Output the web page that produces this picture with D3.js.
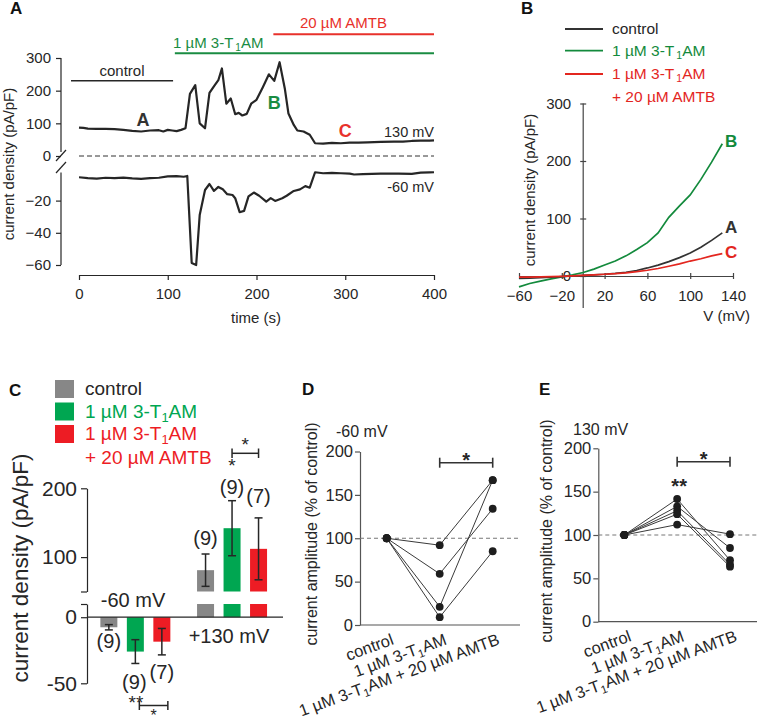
<!DOCTYPE html>
<html><head><meta charset="utf-8">
<script src="https://cdn.jsdelivr.net/npm/d3@7"></script>
<style>
body{margin:0;background:#fff}
svg{display:block;font-family:"Liberation Sans",Arial,Helvetica,sans-serif}
</style></head><body>
<svg id="fig" width="759" height="725"></svg>
<script>
// ================= DATA =================
// Panel A : current density over time
const timeA130 = [0,5,10,20,30,40,50,60,70,80,90,95,100,105,110,115,120,125,131,136,142,147,152,157,161,166,171,176,180,184,189,194,200,207,214,220,226,232,236,242,246,253,260,266,275,285,295,305,315,325,340,355,365,375,385,395,400];
const curA130  = [87,86,84,83,83,82,80,77,75,78,79,75,80,78,76,80,85,190,217,100,85,193,213,232,268,160,176,128,132,124,129,160,172,210,250,230,287,205,130,95,78,75,65,39,38,40,39,41,41,42,43,44,44,46,47,47,48];
const timeAm60 = [0,10,20,30,40,50,60,70,80,90,100,110,118,122,127,132,136,142,147,152,157,162,167,173,176,181,186,191,197,203,211,216,221,229,234,242,249,255,260,266,275,285,295,305,310,320,340,360,375,385,395,400];
const curAm60  = [-5.5,-6,-6.3,-5.8,-6,-5.7,-6.2,-6.5,-6,-5.8,-5,-4.8,-5.2,-4.7,-58.8,-60,-29,-13.4,-9.7,-14,-11.5,-13,-16,-16.5,-18.5,-27.2,-26.4,-17.4,-15,-17,-20.6,-18.5,-20.2,-18.5,-17,-14,-13,-11,-12,-2.4,-3,-2.8,-3,-3.2,-3.8,-3.5,-3.3,-3.2,-3.4,-2.6,-2.5,-2.4];
const ticksAx = [0,100,200,300,400];
const ticksAup = [0,100,200,300];
const ticksAlo = [-20,-40,-60];
const periodControl = [-9,106];
const periodT1AM = [108,400];
const periodAMTB = [219,400];

// Panel B : I-V curves
const voltB = [-60,-50,-40,-30,-20,-10,0,10,20,30,40,50,60,70,80,90,100,110,120,130];
const ivControl = [-4,-3.6,-3,-2.2,-1,0,1,2,3,4.5,6.5,9.5,14,19,25,32,40,50,62,75];
const ivT1AM    = [-19,-13,-9,-5,-1.5,2,6,12,19,26,35,46,58,75,102,122,141,168,198,230];
const ivAMTB    = [-2,-1.8,-1.5,-1,-0.5,0.2,1,2,3,4,5.5,7.5,10,13,17,21,26,30,35,39];
const ticksBx = [-60,-20,20,60,100,140];
const ticksBy = [0,100,200,300];

// Panel C : bar summary
const groupsC = ["-60 mV","+130 mV"];
const condsC  = ["control","1 \u00b5M 3-T1AM","1 \u00b5M 3-T1AM + 20 \u00b5M AMTB"];
const meanCm60 = [-7.6,-26,-18.5];
const semCm60  = [2,9,10];
const meanC130 = [81,142,112];
const semC130  = [23.5,40,45];
const nCm60 = [9,9,7];
const nC130 = [9,9,7];
const ticksCup = [50,100,200];
const ticksClo = [-50,0,10];

// Panels D / E : paired cells (% of control)
const catsDE = ["control","1 \u00b5M 3-T1AM","1 \u00b5M 3-T1AM + 20 \u00b5M AMTB"];
const cellsD = [[100,92,167],[100,59,134],[100,21,167],[100,9,85]];
const cellsE = [[100,141.5,71],[100,133,85],[100,128,66],[100,124,63.5],[100,112,101]];
const ticksDE = [0,50,100,150,200];

// ================= DRAW =================
const svg = d3.select("#fig");
const FONT = '"Liberation Sans", Arial, Helvetica, sans-serif';
const INK = "#262626";
const GREEN_D = "#1a8c42", RED_D = "#e8312b";
const C_GRAY = "#878787", C_GREEN = "#00a651", C_RED = "#ed1c24";

function styleAxis(g, size, col) {
  g.attr("font-family", FONT);
  g.selectAll("text").attr("font-size", size).attr("fill", INK);
  g.selectAll("line").attr("stroke", col || INK).attr("stroke-width", 1.2);
  g.selectAll("path.domain").attr("stroke", col || INK).attr("stroke-width", 1.2);
}
function rich(sel, str, size, gap) {
  const parts = str.split("3-T1AM");
  const s = size * 0.22;
  sel.append("tspan").text(parts[0]);
  for (let i = 1; i < parts.length; i++) {
    sel.append("tspan").text("3-T");
    sel.append("tspan").attr("font-size", size * 0.68).attr("dy", s).attr("dx", gap || 0).text("1");
    sel.append("tspan").attr("dy", -s).text("AM" + parts[i]);
  }
  return sel;
}
function text(g, x, y, str, size, opt = {}) {
  const t = g.append("text").attr("x", x).attr("y", y).attr("font-size", size)
    .attr("font-family", FONT).attr("fill", opt.fill || INK)
    .attr("text-anchor", opt.anchor || "start")
    .attr("font-weight", opt.bold ? "bold" : "normal");
  if (opt.rotate !== undefined) t.attr("transform", `rotate(${opt.rotate},${x},${y})`);
  rich(t, str, size, opt.gap);
  return t;
}
function line(g, x1, y1, x2, y2, col, w, dash) {
  const l = g.append("line").attr("x1", x1).attr("y1", y1).attr("x2", x2).attr("y2", y2)
    .attr("stroke", col || INK).attr("stroke-width", w || 1.2);
  if (dash) l.attr("stroke-dasharray", dash);
  return l;
}

// ---------- Panel A ----------
{
  const g = svg.append("g");
  const xA = d3.scaleLinear().domain([0,400]).range([79,434]);
  const yAup = d3.scaleLinear().domain([0,300]).range([156,58]);
  const yAlo = d3.scaleLinear().domain([-60,0]).range([265,168.4]);

  g.append("g").attr("transform","translate(0,275)")
    .call(d3.axisBottom(xA).tickValues(ticksAx).tickSizeInner(5).tickSizeOuter(0).tickPadding(8))
    .call(styleAxis, 15);
  const up = g.append("g").attr("transform","translate(61,0)")
    .call(d3.axisLeft(yAup).tickValues(ticksAup).tickSizeInner(5).tickSizeOuter(0).tickPadding(5))
    .call(styleAxis, 15);
  up.select(".domain").remove();
  line(g, 61, yAup(300), 61, yAup(0) - 4);
  const lo = g.append("g").attr("transform","translate(61,0)")
    .call(d3.axisLeft(yAlo).tickValues(ticksAlo).tickSizeInner(5).tickSizeOuter(0).tickPadding(5))
    .call(styleAxis, 15);
  lo.select(".domain").remove();
  line(g, 61, yAlo(-2.5), 61, yAlo(-60));
  line(g, 56, 161, 66, 150);
  line(g, 56, 173, 66, 162);

  line(g, xA(0), yAup(0), xA(400), yAup(0), "#333", 1, "5,3");

  const l130 = d3.line().x((d,i) => xA(timeA130[i])).y(d => yAup(d));
  g.append("path").attr("d", l130(curA130)).attr("fill","none").attr("stroke",INK)
    .attr("stroke-width",2.2).attr("stroke-linejoin","round");
  const lm60 = d3.line().x((d,i) => xA(timeAm60[i])).y(d => yAlo(d));
  g.append("path").attr("d", lm60(curAm60)).attr("fill","none").attr("stroke",INK)
    .attr("stroke-width",2.2).attr("stroke-linejoin","round");

  // application bars
  line(g, xA(periodControl[0]), 80.7, xA(periodControl[1]), 80.7, INK, 1.5);
  text(g, (xA(periodControl[0]) + xA(periodControl[1])) / 2, 76, "control", 15, {anchor:"middle"});
  line(g, xA(periodT1AM[0]), 53.3, xA(periodT1AM[1]), 53.3, GREEN_D, 2);
  text(g, 173, 47.5, "1 \u00b5M 3-T1AM", 15, {fill:GREEN_D, gap:2});
  line(g, xA(periodAMTB[0]), 34.3, xA(periodAMTB[1]), 34.3, RED_D, 2);
  text(g, 300, 28, "20 \u00b5M AMTB", 15, {fill:RED_D});

  text(g, xA(72), yAup(92), "A", 18, {anchor:"middle", bold:true, fill:"#333"});
  text(g, xA(220), yAup(145), "B", 18, {anchor:"middle", bold:true, fill:GREEN_D});
  text(g, xA(300), yAup(58), "C", 18, {anchor:"middle", bold:true, fill:RED_D});
  text(g, 434, 137, "130 mV", 14.5, {anchor:"end"});
  text(g, 434, 192, "-60 mV", 14.5, {anchor:"end"});

  text(g, 256, 323, "time (s)", 15, {anchor:"middle"});
  text(g, 14, 164, "current density (pA/pF)", 15, {anchor:"middle", rotate:-90});
  text(g, 10, 14, "A", 17, {bold:true, fill:"#111"});
}

// ---------- Panel B ----------
{
  const g = svg.append("g");
  const xB = d3.scaleLinear().domain([-60,140]).range([519,733]);
  const yB = d3.scaleLinear().domain([0,300]).range([276,103.5]);

  const ax = g.append("g").attr("transform","translate(0,276)")
    .call(d3.axisBottom(xB).tickValues(ticksBx).tickSizeInner(3).tickSizeOuter(0).tickPadding(11))
    .call(styleAxis, 15, "#444");
  ax.selectAll(".tick line").attr("y1", -3).attr("y2", 3);
  const ay = g.append("g").attr("transform",`translate(${xB(0)},0)`)
    .call(d3.axisLeft(yB).tickValues(ticksBy).tickSizeInner(3).tickSizeOuter(0).tickPadding(9))
    .call(styleAxis, 15, "#444");
  ay.select(".domain").remove();
  ay.selectAll(".tick line").attr("x1", -3).attr("x2", 3);
  line(g, xB(0), yB(300), xB(0), 308, "#444", 1.2);

  const lB = d3.line().x((d,i) => xB(voltB[i])).y(d => yB(d));
  [[ivT1AM, "#138a3c"], [ivControl, "#333"], [ivAMTB, "#e3261f"]].forEach(([arr, col]) => {
    g.append("path").attr("d", lB(arr)).attr("fill","none").attr("stroke",col).attr("stroke-width",1.7);
  });
  text(g, 725, 147, "B", 17, {bold:true, fill:"#138a3c"});
  text(g, 725, 233, "A", 17, {bold:true, fill:"#333"});
  text(g, 725, 258, "C", 17, {bold:true, fill:"#e3261f"});

  // legend
  line(g, 565, 29, 603, 29, "#333", 1.8);
  text(g, 612, 34, "control", 15.5);
  line(g, 565, 50.7, 603, 50.7, "#138a3c", 1.8);
  text(g, 612, 55.5, "1 \u00b5M 3-T1AM", 15.5, {fill:"#138a3c", gap:2});
  line(g, 565, 74, 603, 74, "#e3261f", 1.8);
  text(g, 612, 78.5, "1 \u00b5M 3-T1AM", 15.5, {fill:"#e3261f", gap:2});
  text(g, 612, 101.5, "+ 20 \u00b5M AMTB", 15.5, {fill:"#e3261f"});

  text(g, 750, 321, "V (mV)", 15, {anchor:"end"});
  text(g, 535, 190, "current density (pA/pF)", 15, {anchor:"middle", rotate:-90});
  text(g, 521, 14, "B", 17, {bold:true, fill:"#111"});
}

// ---------- Panel C ----------
{
  const g = svg.append("g");
  const xG = d3.scaleBand().domain(groupsC).range([87, 280.4]);
  const xC = d3.scalePoint().domain(condsC).range([-26.5, 26.5]);
  const yCup = d3.scaleLinear().domain([50,200]).range([591.5,488.3]);
  const yClo = d3.scaleLinear().domain([-50,10]).range([683.3,604]);
  const cx = (grp, c) => xG(grp) + xG.bandwidth() / 2 + xC(c);
  const cols = [C_GRAY, C_GREEN, C_RED];
  const bw = 17;

  g.append("g").attr("transform","translate(87,0)")
    .call(d3.axisLeft(yCup).tickValues(ticksCup).tickSizeInner(6).tickSizeOuter(0).tickPadding(4)
      .tickFormat(d => d === 50 ? "" : d))
    .call(styleAxis, 21);
  g.append("g").attr("transform","translate(87,0)")
    .call(d3.axisLeft(yClo).tickValues(ticksClo).tickSizeInner(6).tickSizeOuter(0).tickPadding(4)
      .tickFormat(d => d === 10 ? "" : d))
    .call(styleAxis, 21);

  // -60 mV bars
  condsC.forEach((c, i) => {
    const x = cx(groupsC[0], c);
    const m = meanCm60[i], s = semCm60[i];
    g.append("rect").attr("x", x - bw/2).attr("y", yClo(0)).attr("width", bw)
      .attr("height", yClo(m) - yClo(0)).attr("fill", cols[i]);
    line(g, x, yClo(m + s), x, yClo(m - s), INK, 1.5);
    line(g, x - 4, yClo(m + s), x + 4, yClo(m + s), INK, 1.5);
    line(g, x - 4, yClo(m - s), x + 4, yClo(m - s), INK, 1.5);
  });
  // +130 mV bars (broken)
  condsC.forEach((c, i) => {
    const x = cx(groupsC[1], c);
    const m = meanC130[i], s = semC130[i];
    g.append("rect").attr("x", x - bw/2).attr("y", yClo(10)).attr("width", bw)
      .attr("height", yClo(0) - yClo(10)).attr("fill", cols[i]);
    g.append("rect").attr("x", x - bw/2).attr("y", yCup(m)).attr("width", bw)
      .attr("height", yCup(50) - yCup(m)).attr("fill", cols[i]);
    line(g, x, yCup(m + s), x, yCup(m - s), INK, 1.5);
    line(g, x - 4, yCup(m + s), x + 4, yCup(m + s), INK, 1.5);
    line(g, x - 4, yCup(m - s), x + 4, yCup(m - s), INK, 1.5);
  });
  line(g, 87, yClo(0), 283, yClo(0), INK, 1.3);

  // n labels
  const lift130 = [9, 7, 15];
  condsC.forEach((c, i) => {
    text(g, cx(groupsC[1], c), yCup(meanC130[i] + semC130[i]) - lift130[i], `(${nC130[i]})`, 20, {anchor:"middle"});
  });
  const drop60 = [18, 26, 24];
  condsC.forEach((c, i) => {
    text(g, cx(groupsC[0], c) + (i === 1 ? -1 : 0), yClo(meanCm60[i] - semCm60[i]) + drop60[i], `(${nCm60[i]})`, 20, {anchor:"middle"});
  });
  text(g, 133, 607, "-60 mV", 20, {anchor:"middle"});
  text(g, 229, 643, "+130 mV", 20, {anchor:"middle"});

  // significance
  const xg130 = cx(groupsC[1], condsC[1]), xr130 = cx(groupsC[1], condsC[2]);
  text(g, xg130, 472, "*", 19, {anchor:"middle"});
  line(g, xg130, 453.3, xr130, 453.3, INK, 1.5);
  line(g, xg130, 448.5, xg130, 458, INK, 1.5);
  line(g, xr130, 448.5, xr130, 458, INK, 1.5);
  text(g, (xg130 + xr130) / 2, 451, "*", 19, {anchor:"middle"});
  const xgm = cx(groupsC[0], condsC[1]) + 4, xrm = cx(groupsC[0], condsC[2]) + 6;
  text(g, 136, 709, "**", 19, {anchor:"middle"});
  line(g, xgm, 705.5, xrm, 705.5, INK, 1.5);
  line(g, xgm, 701, xgm, 710, INK, 1.5);
  line(g, xrm, 701, xrm, 710, INK, 1.5);
  text(g, (xgm + xrm) / 2, 720.5, "*", 16, {anchor:"middle"});

  // legend
  const ly = [380, 402.5, 425];
  cols.forEach((col, i) => g.append("rect").attr("x", 55).attr("y", ly[i]).attr("width", 19).attr("height", 18).attr("fill", col));
  text(g, 85, 395, "control", 19);
  text(g, 85, 417.5, "1 \u00b5M 3-T1AM", 19, {fill:C_GREEN});
  text(g, 85, 440, "1 \u00b5M 3-T1AM", 19, {fill:C_RED});
  text(g, 85, 464, "+ 20 \u00b5M AMTB", 19, {fill:C_RED});

  text(g, 28, 568, "current density (pA/pF)", 22.5, {anchor:"middle", rotate:-90});
  text(g, 9, 396, "C", 17, {bold:true, fill:"#111"});
}

// ---------- Panels D & E ----------
function paired(cfg) {
  const g = svg.append("g");
  const x = d3.scalePoint().domain(catsDE).range(cfg.xr);
  const y = d3.scaleLinear().domain([0,200]).range(cfg.yr);
  g.append("g").attr("transform", `translate(${cfg.ax},0)`)
    .call(d3.axisLeft(y).tickValues(ticksDE).tickSizeInner(5).tickSizeOuter(0).tickPadding(2))
    .call(styleAxis, 16.5, "#555");
  line(g, cfg.ax, y(0), cfg.xend, y(0), "#555", 1.2);
  line(g, cfg.ax, y(100), cfg.xend, y(100), "#777", 1, "4,3");
  const ln = d3.line().x((d,i) => x(catsDE[i])).y(d => y(d));
  cfg.cells.forEach(c => g.append("path").attr("d", ln(c)).attr("fill","none").attr("stroke","#3a3a3a").attr("stroke-width",1));
  cfg.cells.forEach(c => c.forEach((v,i) => g.append("circle").attr("cx", x(catsDE[i])).attr("cy", y(v)).attr("r", 3.9).attr("fill","#1e1e1e")));
  // category labels (rotated, same anchor offset so they stack)
  catsDE.forEach(cat => {
    const px = x(cat) + 8, py = y(0) + 19;
    text(g, px, py, cat, 16.5, {anchor:"end", rotate:-20});
  });
  // significance bar
  const x1 = x(catsDE[1]), x2 = x(catsDE[2]);
  line(g, x1, cfg.sigY, x2, cfg.sigY, "#333", 1.6);
  line(g, x1, cfg.sigY - 5, x1, cfg.sigY + 5, "#333", 1.6);
  line(g, x2, cfg.sigY - 5, x2, cfg.sigY + 5, "#333", 1.6);
  text(g, (x1 + x2) / 2, cfg.sigY + 4, "*", 20, {anchor:"middle", bold:true});
  if (cfg.stars) text(g, x1 + 2, cfg.starsY, "**", 20, {anchor:"middle", bold:true});
  text(g, cfg.titleX, cfg.titleY, cfg.title, 16);
  text(g, cfg.ylabX, cfg.ylabY, "current amplitude (% of control)", 16, {anchor:"middle", rotate:-90});
  text(g, cfg.letterX, 395, cfg.letter, 17, {bold:true, fill:"#111"});
}
paired({cells: cellsD, xr:[386.7,492.7], yr:[625,451.5], ax:360, xend:520, sigY:462.7,
  title:"-60 mV", titleX:336, titleY:437, ylabX:317, ylabY:534, letter:"D", letterX:302});
paired({cells: cellsE, xr:[624.3,730], yr:[621.7,448.3], ax:598.3, xend:757, sigY:461.7,
  stars:true, starsY:493, title:"130 mV", titleX:573, titleY:435, ylabX:552, ylabY:531, letter:"E", letterX:539});
</script>
</body></html>
